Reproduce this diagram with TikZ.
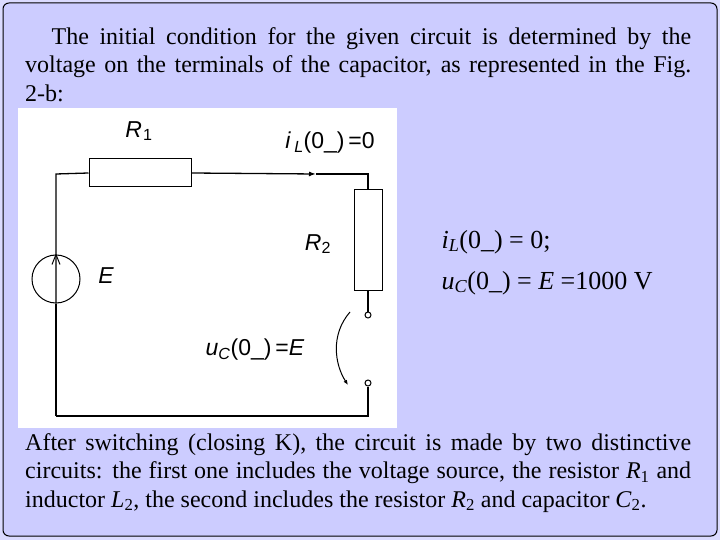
\documentclass[tikz,border=0pt]{standalone}
\usepackage{fontspec}
\setmainfont{Liberation Serif}
\setsansfont{Liberation Sans}
\usetikzlibrary{arrows.meta}
\definecolor{bg}{HTML}{CCCCFF}
\tikzset{wire/.style={line width=1.3pt},
 res/.style={draw,line width=1pt,fill=white,inner sep=0pt},
 term/.style={circle,draw,line width=1pt,fill=white,minimum size=6pt,inner sep=0pt},
 clab/.style={font=\fontsize{23}{24}\selectfont\sffamily\itshape},
 para/.style={font=\fontsize{24}{28.5}\selectfont,text width=666pt,align=justify,inner sep=0pt,anchor=north west}}
\begin{document}
\begin{tikzpicture}[x=1pt,y=-1pt]
\useasboundingbox (0,0) rectangle (720,540);
\fill[bg!70] (0,0) rectangle (720,540);
\draw[fill=bg,line width=1pt,rounded corners=6pt] (3,3) rectangle (717,536);
\fill[white] (18,108) rectangle (397,428);
\node[para] (top) at (25,27) {\hyphenpenalty=10000 \hspace*{1.1em}The initial condition for the given circuit is determined by the\linebreak voltage on the terminals of the capacitor, as represented in the Fig.\linebreak 2-b:};
\coordinate (tl) at (56,174);
\coordinate (tr) at (368,174);
\coordinate (bl) at (56,416);
\coordinate (br) at (368,416);
\node[res,minimum width=102pt,minimum height=28pt] (r1) at (140,173) {};
\node[res,minimum width=28pt,minimum height=101pt] (r2) at (368,240) {};
\node[term] (t1) at (368,315) {};
\node[term] (t2) at (368,383) {};
\node[circle,draw,line width=1pt,minimum size=48pt,inner sep=0pt] (src) at (56,279) {};
\draw[wire] (bl) -- (src.south);
\draw[wire] (src.south) -- (src.north) -- (tl) -- (r1.west);
\draw[wire,-{Latex[length=7pt,width=5pt]}] (r1.east) -- (316,174);
\draw[wire] (316,174) -- (tr) -- (r2.north);
\draw[wire] (r2.south) -- (t1.north);
\draw[wire] (t2.south) -- (br) -- (bl);
\draw[line width=1pt] (src.north) -- ++(-4,10) (src.north) -- ++(4,10);
\draw[line width=1pt,-{Latex[length=5pt,width=4pt]}] (350,312) .. controls (330,335) and (335,365) .. (348,385);
\node[clab] (lr1) at (139,131) {R\kern1pt\textsubscript{\upshape 1}};
\node[clab] (lr2) at (318,244) {R\textsubscript{\upshape 2}};
\node[clab] (le) at (106,276) {E};
\node[font=\fontsize{23}{24}\selectfont\sffamily] (li) at (330,143) {\textit{i\,}\textsubscript{\textit{L}}(0\_)\,=0};
\node[font=\fontsize{23}{24}\selectfont\sffamily] (lu) at (255,350) {\textit{u}\textsubscript{\textit{C}}(0\_)\,=\textit{E}};
\node[font=\fontsize{26}{28}\selectfont,anchor=west] (eq1) at (438,242) {\textit{i}\textsubscript{\textit{L}}(0\_) = 0;};
\node[font=\fontsize{26}{28}\selectfont,anchor=west] (eq2) at (438,283) {\textit{u}\textsubscript{\textit{C}}(0\_) = \textit{E} =1000 V};
\node[para] (bot) at (25,433) {\hyphenpenalty=10000 After switching (closing K), the circuit is made by two distinctive\linebreak circuits: the first one includes the voltage source, the resistor \textit{R}\textsubscript{1} and\linebreak inductor \textit{L}\textsubscript{2}, the second includes the resistor \textit{R}\textsubscript{2} and capacitor \textit{C}\textsubscript{2}.};
\end{tikzpicture}
\end{document}
